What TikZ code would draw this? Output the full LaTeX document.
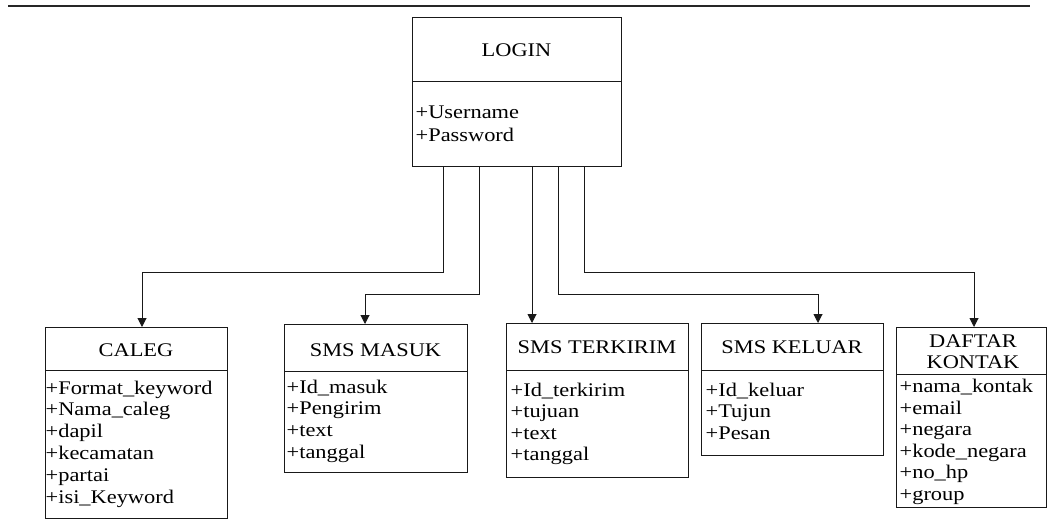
\documentclass[tikz,border=0pt]{standalone}
\usepackage{fontspec}
\setmainfont{Liberation Serif}[FakeStretch=1.16]
\usetikzlibrary{arrows.meta}

\begin{document}
\begin{tikzpicture}[x=1pt,y=-1pt,
  box/.style={draw=black!90, line width=1.2pt, inner sep=0pt, anchor=north west},
  title/.style={inner sep=0pt, anchor=base, font=\fontsize{19.3}{21.8}\selectfont},
  attr/.style={inner sep=0pt, anchor=base west, font=\fontsize{19.3}{21.8}\selectfont},
  link/.style={draw=black!90, line width=1pt, -{Triangle[width=9pt,length=9pt]}},
  rule/.style={draw=black!85, line width=2pt},
]
\useasboundingbox (0,0) rectangle (1048,525);

% header rule
\coordinate (r1) at (8,6);
\coordinate (r2) at (1030,6);
\draw[rule] (r1) -- (r2);

% ---------- LOGIN ----------
\node[box, minimum width=209pt, minimum height=64pt] (login-head) at (412,17) {};
\node[box, minimum width=209pt, minimum height=85pt] (login-body) at (412,81) {};
\node[title] (login-t) at (516.5,56) {LOGIN};
\node[attr] (login-a0) at (415.5,118) {+Username};
\node[attr] (login-a1) at (415.5,141) {+Password};

% ---------- CALEG ----------
\node[box, minimum width=182pt, minimum height=43pt] (caleg-head) at (45,327) {};
\node[box, minimum width=182pt, minimum height=148pt] (caleg-body) at (45,370) {};
\node[title] (caleg-t) at (136,356) {CALEG};
\foreach \t [count=\i from 0] in {+Format\_keyword,+Nama\_caleg,+dapil,+kecamatan,+partai,+isi\_Keyword}
  \node[attr, name=caleg-a\i] at (45.5,{394+21.8*\i}) {\t};

% ---------- SMS MASUK ----------
\node[box, minimum width=183pt, minimum height=47pt] (masuk-head) at (284,324) {};
\node[box, minimum width=183pt, minimum height=101pt] (masuk-body) at (284,371) {};
\node[title] (masuk-t) at (375.5,356) {SMS MASUK};
\foreach \t [count=\i from 0] in {+Id\_masuk,+Pengirim,+text,+tanggal}
  \node[attr, name=masuk-a\i] at (286.5,{393+21.8*\i}) {\t};

% ---------- SMS TERKIRIM ----------
\node[box, minimum width=182pt, minimum height=47pt] (terkirim-head) at (506,323) {};
\node[box, minimum width=182pt, minimum height=107pt] (terkirim-body) at (506,370) {};
\node[title] (terkirim-t) at (597,353) {SMS TERKIRIM};
\foreach \t [count=\i from 0] in {+Id\_terkirim,+tujuan,+text,+tanggal}
  \node[attr, name=terkirim-a\i] at (510.5,{396+21.5*\i}) {\t};

% ---------- SMS KELUAR ----------
\node[box, minimum width=182pt, minimum height=47pt] (keluar-head) at (701,323) {};
\node[box, minimum width=182pt, minimum height=85pt] (keluar-body) at (701,370) {};
\node[title] (keluar-t) at (792,353) {SMS KELUAR};
\foreach \t [count=\i from 0] in {+Id\_keluar,+Tujun,+Pesan}
  \node[attr, name=keluar-a\i] at (705.5,{396+21.5*\i}) {\t};

% ---------- DAFTAR KONTAK ----------
\node[box, minimum width=150pt, minimum height=47pt] (daftar-head) at (896,327) {};
\node[box, minimum width=150pt, minimum height=133pt] (daftar-body) at (896,374) {};
\node[title] (daftar-t1) at (973,347) {DAFTAR};
\node[title] (daftar-t2) at (973,368.5) {KONTAK};
\foreach \t [count=\i from 0] in {+nama\_kontak,+email,+negara,+kode\_negara,+no\_hp,+group}
  \node[attr, name=daftar-a\i] at (899.5,{392.5+21.6*\i}) {\t};

% ---------- connectors ----------
\coordinate (e1) at ([xshift=31pt]login-body.south west);
\coordinate (e2) at ([xshift=67pt]login-body.south west);
\coordinate (e3) at ([xshift=120pt]login-body.south west);
\coordinate (e4) at ([xshift=146pt]login-body.south west);
\coordinate (e5) at ([xshift=172pt]login-body.south west);

\coordinate (t1) at ([xshift=97pt]caleg-head.north west);
\coordinate (t2) at ([xshift=81pt]masuk-head.north west);
\coordinate (t3) at ([xshift=26pt]terkirim-head.north west);
\coordinate (t4) at ([xshift=117pt]keluar-head.north west);
\coordinate (t5) at ([xshift=78pt]daftar-head.north west);

\draw[link] (e1) -- ++(0,105) -| (t1);
\draw[link] (e2) -- ++(0,127) -| (t2);
\draw[link] (e3) -- (t3);
\draw[link] (e4) -- ++(0,127) -| (t4);
\draw[link] (e5) -- ++(0,105) -| (t5);
\end{tikzpicture}
\end{document}
